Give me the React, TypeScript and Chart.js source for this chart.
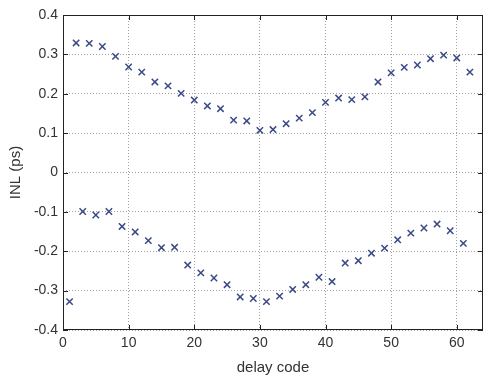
import React, { useEffect, useRef } from "react";
import { Chart, registerables } from "chart.js";

Chart.register(...registerables);

const evenCodes = [2,4,6,8,10,12,14,16,18,20,22,24,26,28,30,32,34,36,38,40,42,44,46,48,50,52,54,56,58,60,62];
const evenINL = [0.329,0.328,0.32,0.295,0.268,0.255,0.23,0.22,0.201,0.184,0.169,0.162,0.133,0.131,0.107,0.109,0.124,0.138,0.152,0.178,0.189,0.185,0.192,0.23,0.253,0.267,0.273,0.289,0.298,0.291,0.255];
const oddCodes = [1,3,5,7,9,11,13,15,17,19,21,23,25,27,29,31,33,35,37,39,41,43,45,47,49,51,53,55,57,59,61];
const oddINL = [-0.328,-0.099,-0.108,-0.099,-0.137,-0.151,-0.173,-0.191,-0.19,-0.235,-0.255,-0.268,-0.285,-0.316,-0.32,-0.328,-0.314,-0.297,-0.285,-0.266,-0.277,-0.23,-0.224,-0.205,-0.192,-0.171,-0.154,-0.141,-0.131,-0.148,-0.18];
const xTicks = [0,10,20,30,40,50,60];
const xTitle = "delay code";
const yTitle = "INL (ps)";

const FONT = "'Liberation Sans', Arial, sans-serif";
const MARK = "#3b4a86";

const framePlugin = {
  id: "frame",
  afterDraw(chart: any) {
    const { ctx, chartArea: a, scales } = chart;
    ctx.save();
    ctx.strokeStyle = "#222";
    ctx.lineWidth = 1;
    ctx.strokeRect(a.left + 0.5, a.top + 0.5, a.right - a.left - 1, a.bottom - a.top - 1);
    const t = 5;
    ctx.beginPath();
    scales.x.ticks.forEach((tk: any) => {
      const px = Math.round(scales.x.getPixelForValue(tk.value)) + 0.5;
      ctx.moveTo(px, a.bottom); ctx.lineTo(px, a.bottom - t);
      ctx.moveTo(px, a.top); ctx.lineTo(px, a.top + t);
    });
    scales.y.ticks.forEach((tk: any) => {
      const py = Math.round(scales.y.getPixelForValue(tk.value)) + 0.5;
      ctx.moveTo(a.left, py); ctx.lineTo(a.left + t, py);
      ctx.moveTo(a.right, py); ctx.lineTo(a.right - t, py);
    });
    ctx.stroke();
    ctx.restore();
  },
};

export default function App() {
  const ref = useRef<HTMLCanvasElement>(null);
  useEffect(() => {
    if (!ref.current) return;
    const pts = (xs: number[], ys: number[]) => xs.map((x, i) => ({ x, y: ys[i] }));
    const chart = new Chart(ref.current, {
      type: "scatter",
      data: {
        datasets: [
          { data: pts(evenCodes, evenINL), pointStyle: "crossRot", pointRadius: 4.5, borderColor: MARK, backgroundColor: MARK, pointBorderWidth: 1.5 } as any,
          { data: pts(oddCodes, oddINL), pointStyle: "crossRot", pointRadius: 4.5, borderColor: MARK, backgroundColor: MARK, pointBorderWidth: 1.5 } as any,
        ],
      },
      options: {
        animation: false,
        responsive: false,
        layout: { padding: { top: 15, left: 7, right: 0, bottom: 0 } },
        plugins: { legend: { display: false }, tooltip: { enabled: false } },
        scales: {
          x: {
            type: "linear",
            min: 0,
            max: 64,
            afterBuildTicks: (s: any) => { s.ticks = xTicks.map((v) => ({ value: v })); },
            afterFit: (s: any) => { s.height = 47; },
            ticks: { color: "#333", font: { family: FONT, size: 14 }, padding: 5, maxRotation: 0 },
            grid: { color: "#a0a0a0", drawTicks: false, lineWidth: 1 },
            border: { display: false, dash: [1, 2] },
            title: { display: true, text: xTitle, color: "#333", font: { family: FONT, size: 15 }, padding: { top: 1, bottom: 0 } },
          },
          y: {
            type: "linear",
            min: -0.4,
            max: 0.4,
            afterFit: (s: any) => { s.width = 56; },
            ticks: {
              stepSize: 0.1,
              color: "#333",
              font: { family: FONT, size: 14 },
              padding: 5,
              callback: (v: any) => String(Number(Number(v).toFixed(1))),
            },
            grid: { color: "#a0a0a0", drawTicks: false, lineWidth: 1 },
            border: { display: false, dash: [1, 2] },
            title: { display: true, text: yTitle, color: "#333", font: { family: FONT, size: 15 }, padding: { top: 0, bottom: 4 } },
          },
        },
      },
      plugins: [framePlugin],
    });
    return () => chart.destroy();
  }, []);
  return (
    <div style={{ position: "fixed", left: 0, top: 0, width: 489, height: 377, background: "#fff" }}>
      <canvas ref={ref} width={489} height={377} style={{ width: 489, height: 377, display: "block" }} />
    </div>
  );
}
